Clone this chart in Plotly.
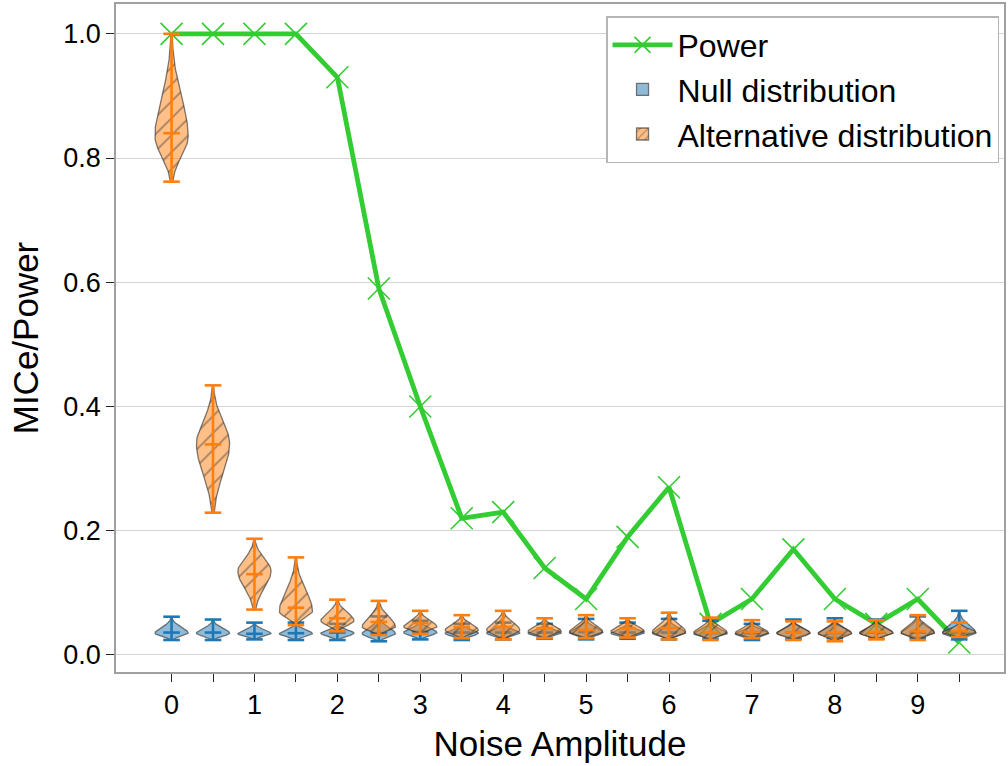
import numpy as np
import plotly.graph_objects as go

# ---------------- data ----------------
positions = [0, 0.5, 1, 1.5, 2, 2.5, 3, 3.5, 4, 4.5, 5, 5.5, 6, 6.5, 7, 7.5, 8, 8.5, 9, 9.5]
x_tick_vals = [0, 1, 2, 3, 4, 5, 6, 7, 8, 9]
x_tick_labels = ["0", "1", "2", "3", "4", "5", "6", "7", "8", "9"]
y_tick_vals = [0.0, 0.2, 0.4, 0.6, 0.8, 1.0]
y_tick_labels = ["0.0", "0.2", "0.4", "0.6", "0.8", "1.0"]

power = [1.0, 1.0, 1.0, 1.0, 0.93, 0.59, 0.40, 0.22, 0.23, 0.14,
         0.09, 0.19, 0.27, 0.05, 0.09, 0.17, 0.09, 0.05, 0.09, 0.02]

alt_max = [1.0, 0.434, 0.187, 0.157, 0.089, 0.087, 0.071, 0.064, 0.071, 0.059,
           0.064, 0.059, 0.068, 0.060, 0.056, 0.054, 0.054, 0.056, 0.064, 0.052]
alt_min = [0.762, 0.229, 0.073, 0.048, 0.038, 0.032, 0.034, 0.027, 0.025, 0.027,
           0.027, 0.028, 0.025, 0.024, 0.027, 0.024, 0.022, 0.025, 0.024, 0.029]
alt_mean = [0.84, 0.339, 0.130, 0.076, 0.059, 0.053, 0.051, 0.045, 0.045, 0.043,
            0.040, 0.043, 0.043, 0.036, 0.037, 0.036, 0.036, 0.037, 0.038, 0.038]
alt_mode = [0.835, 0.34, 0.135, 0.07, 0.055, 0.045, 0.045, 0.040, 0.040, 0.038,
            0.037, 0.038, 0.037, 0.036, 0.035, 0.035, 0.035, 0.035, 0.036, 0.036]

null_max = [0.0615, 0.057, 0.052, 0.052, 0.050, 0.062, 0.055, 0.050, 0.052, 0.050,
            0.058, 0.052, 0.058, 0.055, 0.050, 0.057, 0.059, 0.057, 0.062, 0.071]
null_min = [0.024, 0.024, 0.025, 0.024, 0.024, 0.022, 0.025, 0.024, 0.025, 0.026,
            0.025, 0.026, 0.025, 0.026, 0.024, 0.026, 0.027, 0.026, 0.027, 0.025]
null_mean = [0.036, 0.036, 0.034, 0.035, 0.036, 0.035, 0.037, 0.036, 0.036, 0.036,
             0.037, 0.036, 0.036, 0.035, 0.035, 0.036, 0.035, 0.036, 0.036, 0.036]
null_mode = [0.035, 0.035, 0.034, 0.034, 0.035, 0.034, 0.036, 0.035, 0.035, 0.035,
             0.036, 0.035, 0.035, 0.034, 0.034, 0.035, 0.034, 0.035, 0.035, 0.035]

# ---------------- style ----------------
HALF_WIDTH = 0.2
CAP_HALF = 0.1
FONT = "Liberation Sans, Arial, Helvetica, sans-serif"
BLUE = "#1f77b4"
ORANGE = "#ff7f0e"
GREEN = "#33cc33"
EDGE = "rgba(40,40,40,0.6)"
BLUE_FILL = "rgba(31,119,180,0.5)"
ORANGE_FILL = "rgba(255,127,14,0.5)"
HATCH = dict(shape="/", size=12, solidity=0.16,
             fgcolor="rgba(40,40,40,0.8)", fillmode="overlay")


def violin_outline(pos, lo, hi, mode, k_lo=2.3, k_hi=2.5):
    xs, ys = [], []
    for p, a, b, m in zip(pos, lo, hi, mode):
        y = np.linspace(a, b, 80)
        s_lo = max(m - a, 1e-4) / k_lo
        s_hi = max(b - m, 1e-4) / k_hi
        s = np.where(y < m, s_lo, s_hi)
        w = HALF_WIDTH * np.exp(-0.5 * ((y - m) / s) ** 2)
        xr = p + w
        xl = p - w
        xs += list(xr) + list(xl[::-1]) + [xr[0], None]
        ys += list(y) + list(y[::-1]) + [y[0], None]
    return xs, ys


def stat_lines(pos, lo, hi, mid):
    xs, ys = [], []
    for p, a, b, m in zip(pos, lo, hi, mid):
        xs += [p, p, None]
        ys += [a, b, None]
        for v in (a, b, m):
            xs += [p - CAP_HALF, p + CAP_HALF, None]
            ys += [v, v, None]
    return xs, ys


fig = go.Figure()

# Power line
fig.add_trace(go.Scatter(
    x=positions, y=power, mode="lines+markers", name="Power",
    line=dict(color=GREEN, width=4.8),
    marker=dict(symbol="x-thin-open", size=22, color=GREEN,
                line=dict(color=GREEN, width=1.6)),
))

# Null violins
nx, ny = violin_outline(positions, null_min, null_max, null_mode, 2.3, 2.8)
fig.add_trace(go.Scatter(
    x=nx, y=ny, mode="lines", fill="toself", name="Null distribution",
    legendgroup="null", showlegend=False,
    fillcolor=BLUE_FILL, line=dict(color=EDGE, width=1.3),
))
sx, sy = stat_lines(positions, null_min, null_max, null_mean)
fig.add_trace(go.Scatter(
    x=sx, y=sy, mode="lines", showlegend=False, legendgroup="null",
    line=dict(color=BLUE, width=2.6),
))

# Alternative violins
ax_, ay_ = violin_outline(positions, alt_min, alt_max, alt_mode, 2.3, 2.6)
fig.add_trace(go.Scatter(
    x=ax_, y=ay_, mode="lines", fill="toself", name="Alternative distribution",
    legendgroup="alt", showlegend=False,
    fillcolor=ORANGE_FILL, fillpattern=HATCH,
    line=dict(color=EDGE, width=1.3),
))
sx, sy = stat_lines(positions, alt_min, alt_max, alt_mean)
fig.add_trace(go.Scatter(
    x=sx, y=sy, mode="lines", showlegend=False, legendgroup="alt",
    line=dict(color=ORANGE, width=2.6),
))

# legend patches (no data drawn)
fig.add_trace(go.Bar(
    x=[None], y=[None], name="Null distribution", legendgroup="null",
    marker=dict(color=BLUE_FILL, line=dict(color=EDGE, width=1.3)),
))
fig.add_trace(go.Bar(
    x=[None], y=[None], name="Alternative distribution", legendgroup="alt",
    marker=dict(color=ORANGE_FILL, line=dict(color=EDGE, width=1.3),
                pattern=dict(shape="/", size=7, solidity=0.2,
                             fgcolor="rgba(40,40,40,0.8)", fillmode="overlay")),
))

fig.update_layout(
    width=1008, height=766,
    margin=dict(l=116, r=3, t=2, b=94),
    paper_bgcolor="white", plot_bgcolor="white",
    font=dict(family=FONT, color="black", size=27),
    showlegend=True,
    legend=dict(
        x=0.9944, y=0.982, xanchor="right", yanchor="top",
        bgcolor="white", bordercolor="#b5b5b5", borderwidth=1.5,
        font=dict(size=32, family=FONT),
        itemwidth=60, tracegroupgap=0, traceorder="normal",
    ),
    xaxis=dict(
        range=[-0.67, 10.04],
        tickmode="array",
        tickvals=positions,
        ticktext=[x_tick_labels[x_tick_vals.index(p)] if p in x_tick_vals else "" for p in positions],
        ticks="outside", ticklen=8, tickwidth=1.3, tickcolor="#222",
        showgrid=False, zeroline=False,
        showline=True, mirror=True, linecolor="#a0a0a0", linewidth=1.5,
        tickfont=dict(size=27),
        title=dict(text="Noise Amplitude", font=dict(size=35), standoff=12),
    ),
    yaxis=dict(
        range=[-0.0275, 1.048],
        tickmode="array", tickvals=y_tick_vals, ticktext=y_tick_labels,
        ticks="outside", ticklen=8, tickwidth=1.3, tickcolor="#222",
        showgrid=True, gridcolor="#d4d4d4", gridwidth=1.2,
        zeroline=False,
        showline=True, mirror=True, linecolor="#a0a0a0", linewidth=1.5,
        tickfont=dict(size=27),
        title=dict(text="MICe/Power", font=dict(size=35), standoff=14),
    ),
)

fig.write_html("out.html")
